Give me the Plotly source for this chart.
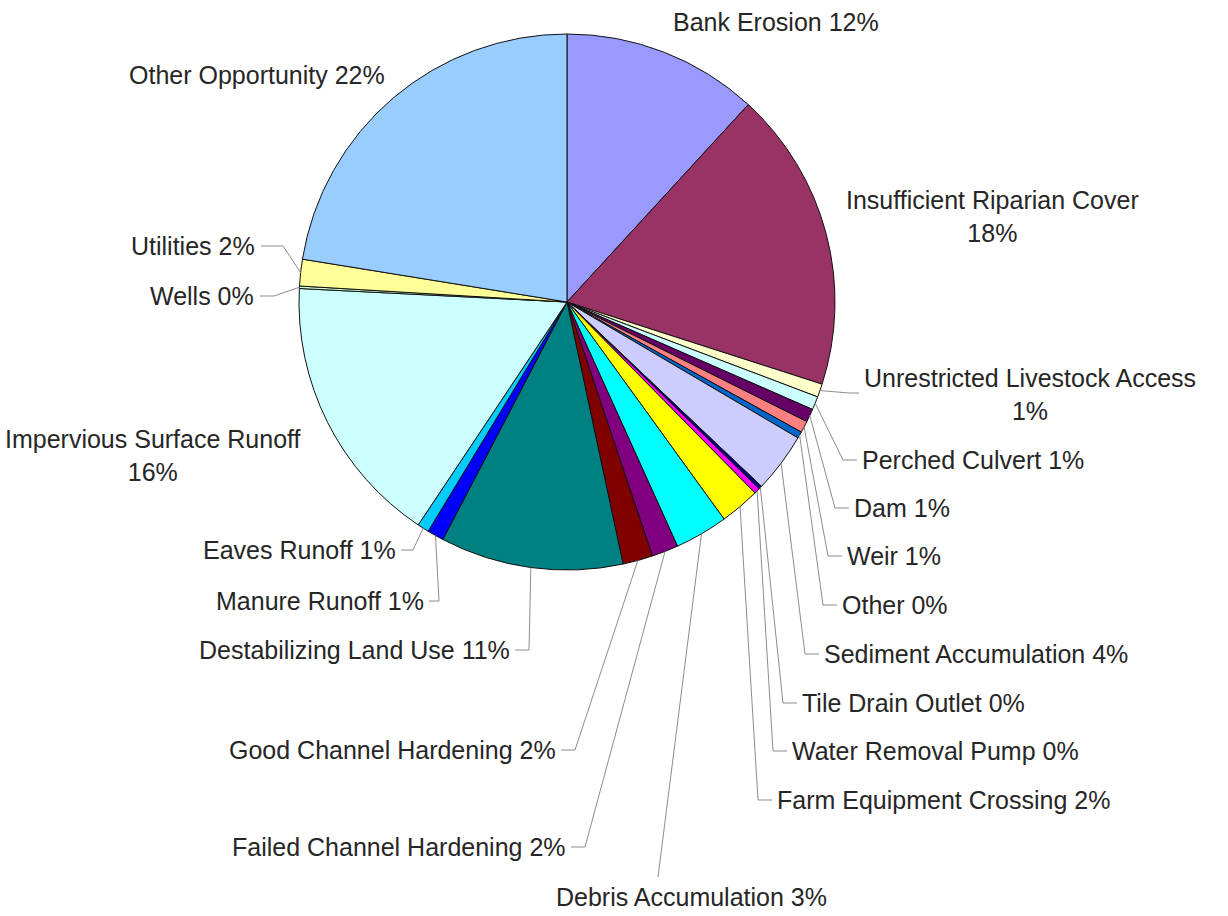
import math
import plotly.graph_objects as go

W, H = 1228, 916

# Share of opportunities by type (percent), clockwise from 12 o'clock
categories = [
    "Bank Erosion",
    "Insufficient Riparian Cover",
    "Unrestricted Livestock Access",
    "Perched Culvert",
    "Dam",
    "Weir",
    "Other",
    "Sediment Accumulation",
    "Tile Drain Outlet",
    "Water Removal Pump",
    "Farm Equipment Crossing",
    "Debris Accumulation",
    "Failed Channel Hardening",
    "Good Channel Hardening",
    "Destabilizing Land Use",
    "Manure Runoff",
    "Eaves Runoff",
    "Impervious Surface Runoff",
    "Wells",
    "Utilities",
    "Other Opportunity",
]
values = [
    11.8, 18.1, 0.8, 0.8, 0.8, 0.7, 0.4, 3.6, 0.2, 0.35, 2.4,
    3.2, 1.6, 1.8, 11.0, 1.0, 0.7, 16.4, 0.15, 1.6, 22.4,
]
colors = [
    "#9999FF", "#993366", "#FFFFCC", "#CCFFFF", "#660066", "#FF8080",
    "#0066CC", "#CCCCFF", "#000080", "#FF00FF", "#FFFF00", "#00FFFF",
    "#800080", "#800000", "#008080", "#0000FF", "#00CCFF", "#CCFFFF",
    "#CCFFCC", "#FFFF99", "#99CCFF",
]

# Pie placement in pixels
CX, CY, R = 567, 302, 268

# Label placement: text x, text y, x-anchor, leader end point (or None), elbow dx
label_layout = {
    "Bank Erosion": (776, 22, "center", None, 0),
    "Insufficient Riparian Cover": (992, 217, "center", None, 0),
    "Unrestricted Livestock Access": (862, 394, "left", (859, 393), -10),
    "Perched Culvert": (860, 460, "left", (857, 460), -14),
    "Dam": (852, 508, "left", (849, 508), -14),
    "Weir": (845, 556, "left", (842, 556), -14),
    "Other": (840, 605, "left", (837, 605), -14),
    "Sediment Accumulation": (822, 654, "left", (819, 654), -14),
    "Tile Drain Outlet": (800, 703, "left", (797, 703), -14),
    "Water Removal Pump": (790, 751, "left", (787, 751), -14),
    "Farm Equipment Crossing": (775, 800, "left", (772, 800), -14),
    "Debris Accumulation": (691, 897, "center", (658, 877), 0),
    "Failed Channel Hardening": (568, 847, "right", (571, 847), 14),
    "Good Channel Hardening": (558, 750, "right", (561, 750), 14),
    "Destabilizing Land Use": (512, 650, "right", (515, 650), 14),
    "Manure Runoff": (426, 601, "right", (429, 601), 10),
    "Eaves Runoff": (398, 550, "right", (401, 550), 12),
    "Impervious Surface Runoff": (153, 455, "center", None, 0),
    "Wells": (256, 296, "right", (260, 296), 14),
    "Utilities": (257, 246, "right", (261, 246), 22),
    "Other Opportunity": (257, 75, "center", None, 0),
}
two_line = {"Insufficient Riparian Cover", "Unrestricted Livestock Access",
            "Impervious Surface Runoff"}


def fx(x):
    return x / W


def fy(y):
    return 1 - y / H


fig = go.Figure(
    go.Pie(
        labels=categories,
        values=values,
        sort=False,
        direction="clockwise",
        rotation=0,
        textinfo="none",
        hoverinfo="label+percent",
        marker=dict(colors=colors, line=dict(color="#111111", width=1)),
        domain=dict(x=[fx(CX - R), fx(CX + R)], y=[fy(CY + R), fy(CY - R)]),
        showlegend=False,
    )
)

total = sum(values)
annotations = []
shapes = []
cum = 0.0
for name, v in zip(categories, values):
    mid = (cum + v / 2) / total * 2 * math.pi
    cum += v
    pct = round(100 * v / total)
    tx, ty, anchor, end, dx = label_layout[name]
    sep = "<br>" if name in two_line else " "
    annotations.append(dict(
        x=fx(tx), y=fy(ty), xref="paper", yref="paper",
        text=f"{name}{sep}{pct}%", showarrow=False,
        xanchor=anchor, yanchor="middle", align="center",
        font=dict(family="Liberation Sans, Arial, sans-serif", size=25,
                  color="#262626"),
    ))
    if end is not None:
        sx = CX + R * math.sin(mid)
        sy = CY - R * math.cos(mid)
        ex, ey = end
        path = (f"M {fx(sx)} {fy(sy)} L {fx(ex + dx)} {fy(ey)} "
                f"L {fx(ex)} {fy(ey)}")
        shapes.append(dict(type="path", path=path, xref="paper", yref="paper",
                           line=dict(color="#8c8c8c", width=1)))

fig.update_layout(
    width=W, height=H,
    margin=dict(l=0, r=0, t=0, b=0),
    paper_bgcolor="white", plot_bgcolor="white",
    annotations=annotations, shapes=shapes,
)

fig.write_html("out.html")
